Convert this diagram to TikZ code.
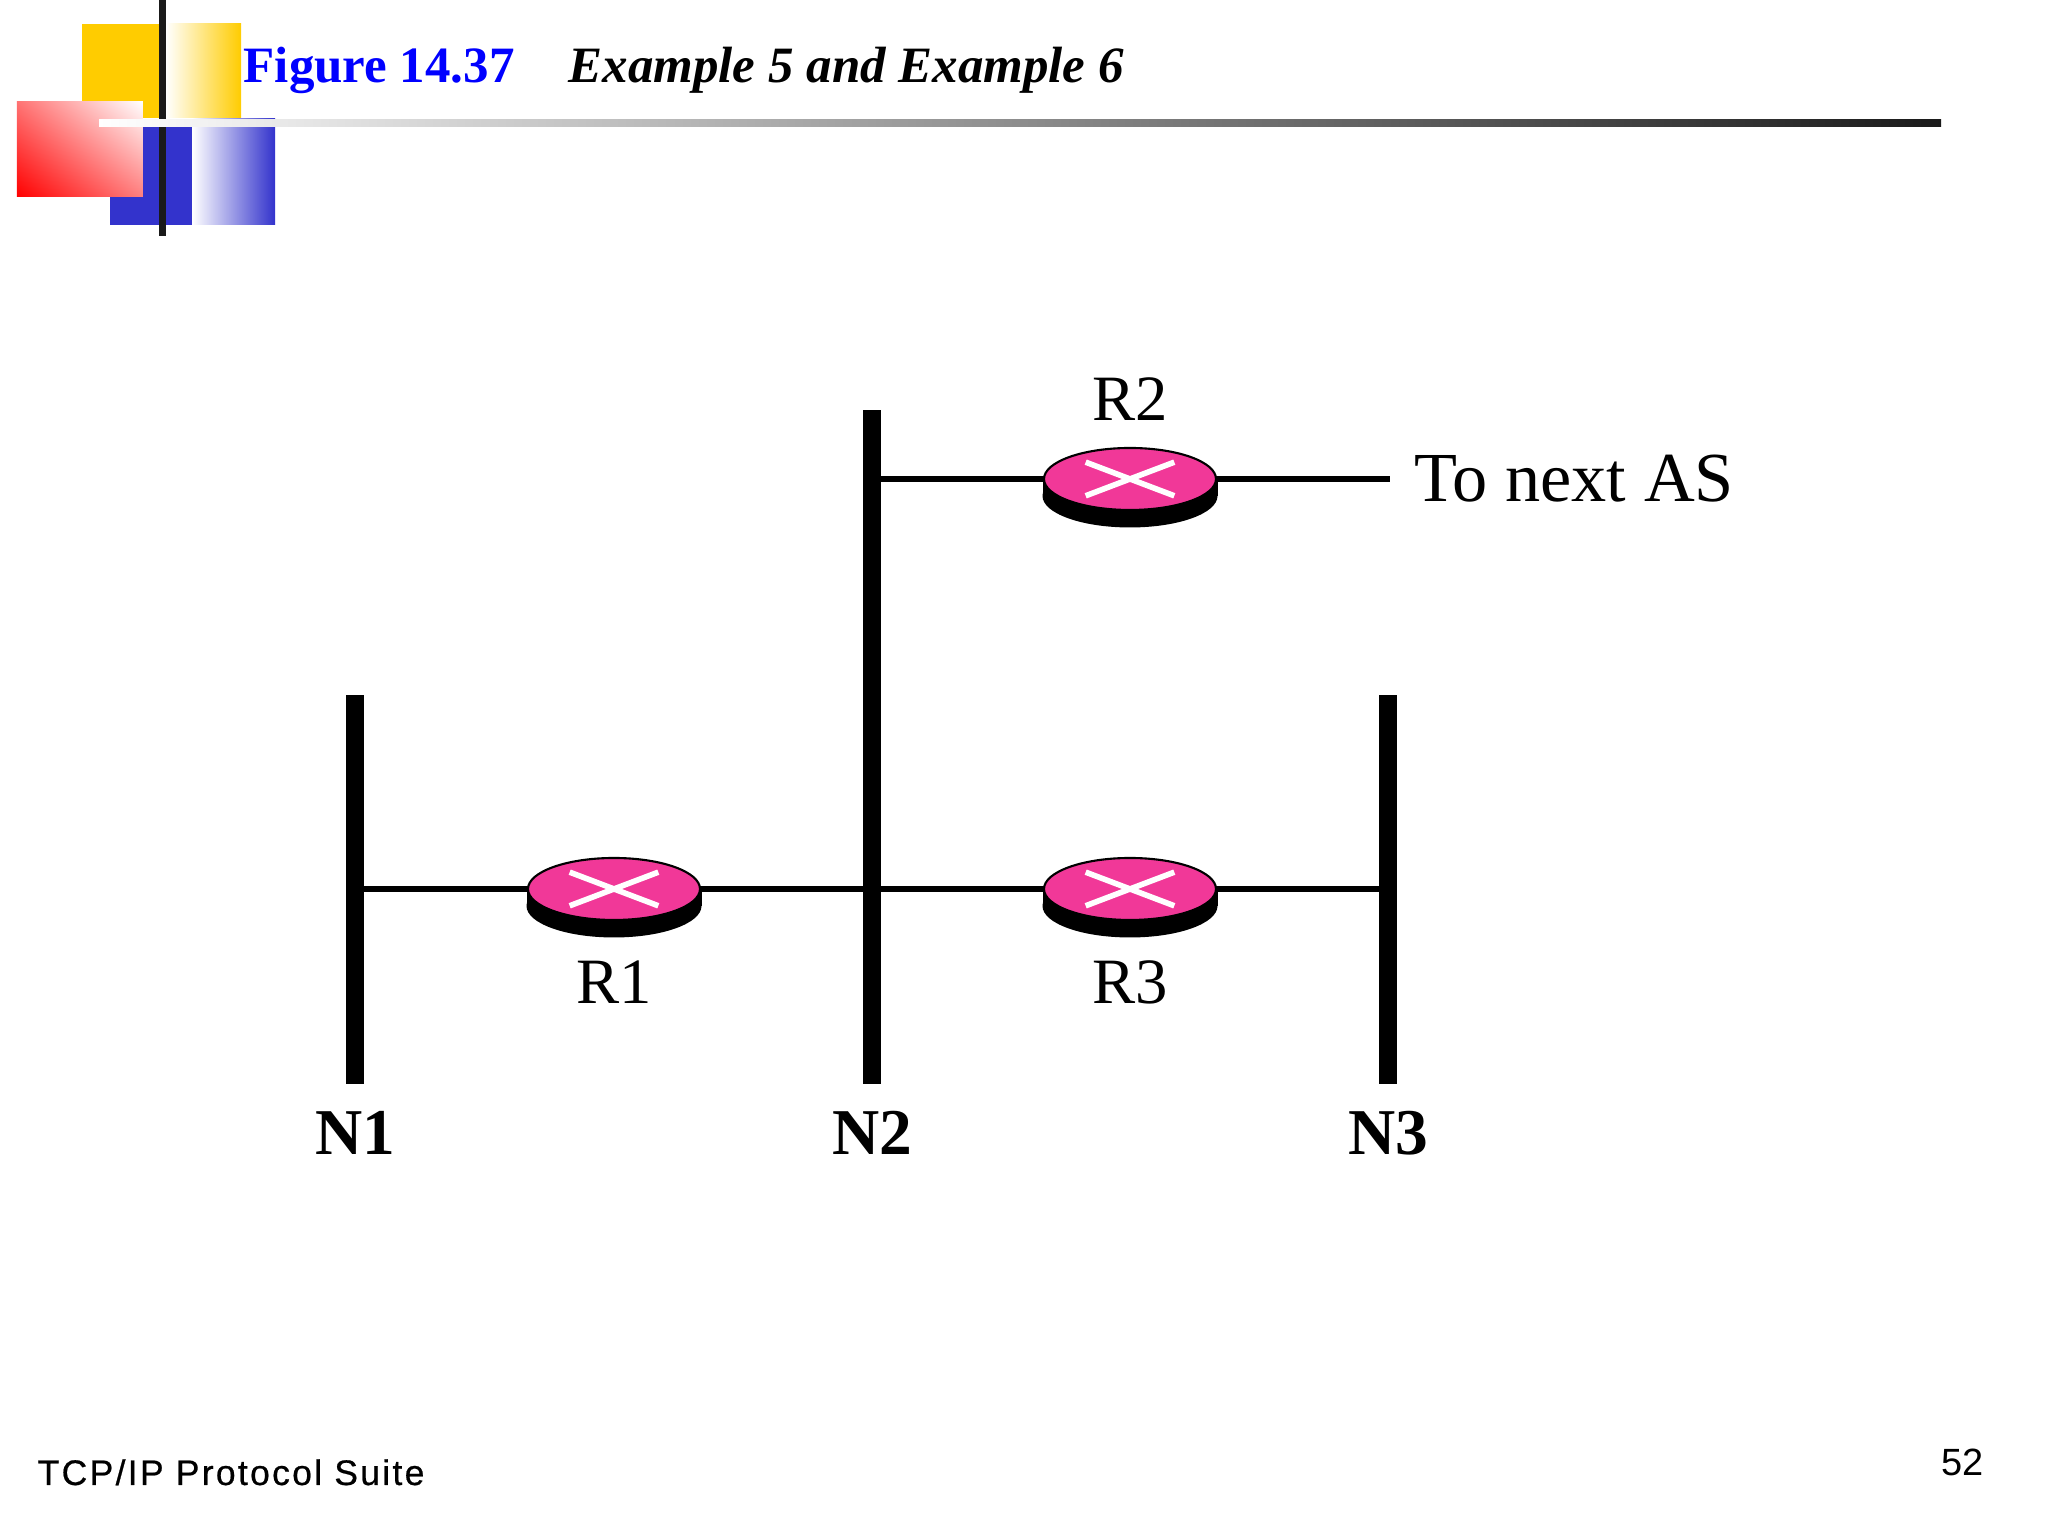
\documentclass[tikz,border=0pt]{standalone}
\usepackage{fontspec}
\setmainfont{Liberation Serif}
\newfontfamily\footerfont[LetterSpace=6.5, FakeBold=0.6]{Liberation Sans}
\newfontfamily\pagefont{Liberation Sans}
\usetikzlibrary{shapes.geometric, shapes.misc, shadings, positioning, calc}
\definecolor{slideYellow}{RGB}{255, 204, 0}
\definecolor{slideBlue}{RGB}{51, 51, 204}
\definecolor{slideRed}{RGB}{255, 0, 0}
\definecolor{slideDark}{RGB}{26, 26, 26}
\definecolor{titleBlue}{RGB}{0, 0, 255}
\definecolor{routerPink}{RGB}{241, 56, 152}

\begin{document}
\begin{tikzpicture}[
    % Estilo para las redes
    netbar/.style={
        fill=black,
        inner sep=0pt,
        minimum width=0.18cm
    },
    % Estilo para enlaces
    link/.style={
        line width=1.9pt,
        black
    },
    % Router: cuerpo y tapa
    routerbase/.style={
        ellipse,
        fill=black,
        inner sep=0pt,
        minimum width=1.75cm,
        minimum height=0.63cm
    },
    routerside/.style={
        rectangle,
        fill=black,
        inner sep=0pt,
        minimum width=1.75cm,
        minimum height=0.17cm
    },
    router/.style={
        ellipse,
        draw=black,
        line width=0.6pt,
        fill=routerPink,
        inner sep=0pt,
        minimum width=1.72cm,
        minimum height=0.62cm
    },
    routermark/.style={
        cross out,
        draw=white,
        line width=1.6pt,
        inner sep=0pt,
        minimum width=0.83cm,
        minimum height=0.28cm
    },
    % Estilos de texto
    routerlabel/.style={
        font=\fontsize{18.4}{20}\selectfont
    },
    netlabel/.style={
        font=\fontsize{18.6}{20}\selectfont\bfseries
    }
]
    \useasboundingbox (0,0) rectangle (20.48,15.36);

    % --- Logo ---
    \fill[slideYellow] (0.82,14.18) rectangle (1.66,15.12);
    \shade[left color=white, right color=slideYellow] (1.66,14.18) rectangle (2.41,15.12);
    \fill[slideBlue] (1.10,13.11) rectangle (1.92,14.17);
    \shade[left color=white, right color=slideBlue] (1.92,13.11) rectangle (2.75,14.17);
    \fill[slideDark] (1.59,13.00) rectangle (1.66,15.36);
    \shade[shading=bilinear interpolation, lower left=slideRed, upper right=white, upper left=red!55!white, lower right=red!50!white] (0.17,13.39) rectangle (1.43,14.34);
    \shade[left color=white, right color=slideDark] (0.99,14.09) rectangle (19.41,14.16);

    % --- Titulo ---
    \node[anchor=base west, inner sep=0pt, text=titleBlue, font=\fontsize{14.5}{16}\selectfont\bfseries] (fig_title) at (2.43,14.53) {Figure 14.37};
    \node[anchor=base west, inner sep=0pt, font=\fontsize{14.5}{16}\selectfont\bfseries\itshape] (fig_caption) at (5.68,14.53) {Example 5 and Example 6};

    % --- Redes ---
    \node[netbar, minimum height=3.89cm] (n1) at (3.55,6.465) {};
    \node[netbar, minimum height=6.74cm] (n2) at (8.72,7.89) {};
    \node[netbar, minimum height=3.89cm] (n3) at (13.88,6.465) {};

    \node[netlabel, below=0.14cm of n1] (n1_label) {N1};
    \node[netlabel, below=0.14cm of n2] (n2_label) {N2};
    \node[netlabel, below=0.14cm of n3] (n3_label) {N3};

    % --- Routers ---
    \coordinate (r1_pos) at (6.14,6.47);
    \coordinate (r2_pos) at (11.30,10.57);
    \coordinate (r3_pos) at (11.30,6.47);
    \coordinate (next_as) at (13.90,10.57);

    % Enlaces
    \draw[link] (n1 |- r1_pos) -- (r1_pos);
    \draw[link] (r1_pos) -- (r3_pos);
    \draw[link] (r3_pos) -- (n3 |- r3_pos);
    \draw[link] (n2 |- r2_pos) -- (r2_pos);
    \draw[link] (r2_pos) -- (next_as);

    % R1
    \node[routerbase] (r1_base) at ($(r1_pos)+(0,-0.17)$) {};
    \node[routerside] (r1_side) at ($(r1_pos)+(0,-0.085)$) {};
    \node[router] (r1) at (r1_pos) {};
    \node[routermark] (r1_mark) at (r1) {};
    \node[routerlabel, below=0.10cm of r1_base] (r1_label) {R1};

    % R2
    \node[routerbase] (r2_base) at ($(r2_pos)+(0,-0.17)$) {};
    \node[routerside] (r2_side) at ($(r2_pos)+(0,-0.085)$) {};
    \node[router] (r2) at (r2_pos) {};
    \node[routermark] (r2_mark) at (r2) {};
    \node[routerlabel, above=0.14cm of r2] (r2_label) {R2};

    % R3
    \node[routerbase] (r3_base) at ($(r3_pos)+(0,-0.17)$) {};
    \node[routerside] (r3_side) at ($(r3_pos)+(0,-0.085)$) {};
    \node[router] (r3) at (r3_pos) {};
    \node[routermark] (r3_mark) at (r3) {};
    \node[routerlabel, below=0.10cm of r3_base] (r3_label) {R3};

    \node[anchor=west, inner sep=0pt, font=\fontsize{20}{22}\selectfont] (next_label) at (14.14,10.57) {To next AS};

    % --- Pie ---
    \node[anchor=base west, inner sep=0pt, font=\footerfont\fontsize{10.1}{12}\selectfont] (footer) at (0.37,0.51) {TCP/IP Protocol Suite};
    \node[anchor=base east, inner sep=0pt, font=\pagefont\fontsize{10.8}{12}\selectfont] (page_num) at (19.84,0.60) {52};

\end{tikzpicture}
\end{document}
